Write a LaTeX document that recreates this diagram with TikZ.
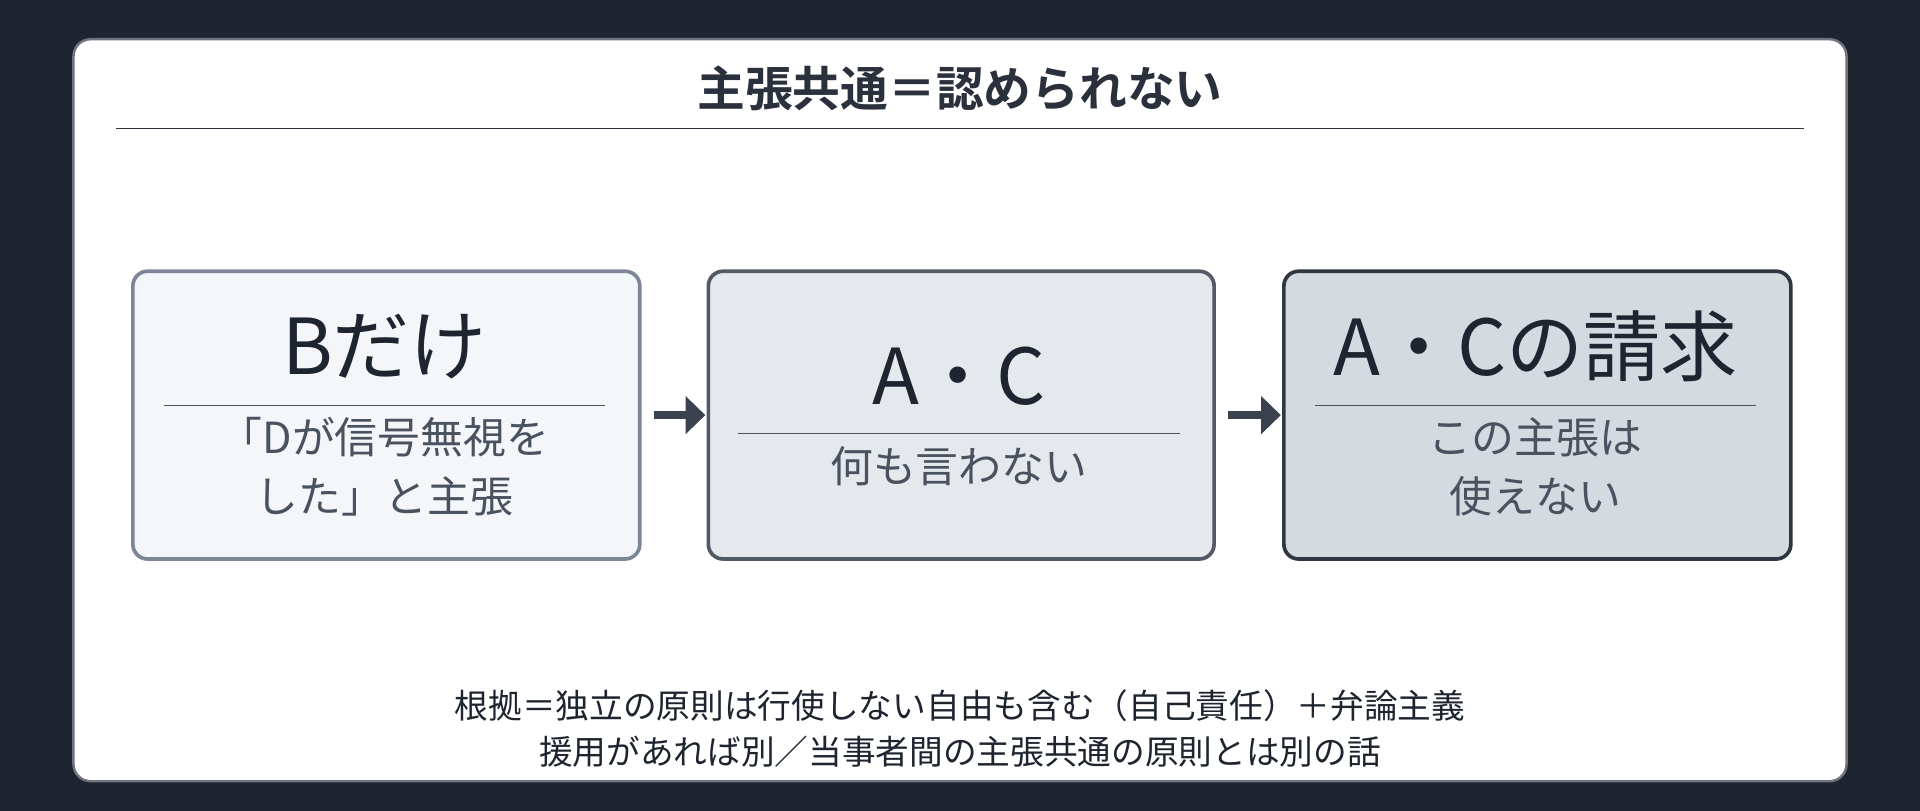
\documentclass[tikz,border=0pt]{standalone}
\usepackage{fontspec}
\setmainfont{Noto Sans CJK JP}
\newfontfamily\cjkb{Noto Sans CJK JP}[BoldFont=* Bold]
\usetikzlibrary{arrows.meta}
\definecolor{bgdark}{HTML}{1E2530}
\definecolor{txt}{HTML}{2A313C}
\definecolor{sub}{HTML}{4A5260}
\begin{document}
\begin{tikzpicture}[x=1pt,y=-1pt,
  box/.style={rounded corners=12, line width=3},
  big/.style={font=\fontsize{63}{68}\selectfont, text=bgdark, anchor=center},
  small/.style={font=\fontsize{35}{48}\selectfont, text=sub, align=center, anchor=center},
  sep/.style={draw=sub, line width=1.2},
  arr/.style={-{Triangle[length=16,width=30]}, line width=7, draw={rgb,255:red,58;green,66;blue,80}}]
\useasboundingbox (0,0) rectangle (1568,662);
\fill[bgdark] (0,0) rectangle (1568,662);
\draw[fill=white, draw=sub!80, line width=2, rounded corners=14] (60,32) rectangle (1508,638);
\node[font=\cjkb\bfseries\fontsize{39}{40}\selectfont, text=txt] (title) at (784,72) {主張共通＝認められない};
\draw[txt, line width=1.5] (95,105) -- (1473,105);
\node[box, draw={rgb,255:red,125;green,134;blue,148}, fill={rgb,255:red,244;green,246;blue,249}, minimum width=414, minimum height=235, anchor=north west] (b1) at (107,220) {};
\node[box, draw={rgb,255:red,82;green,90;blue,102}, fill={rgb,255:red,229;green,232;blue,237}, minimum width=413, minimum height=235, anchor=north west] (b2) at (577,220) {};
\node[box, draw={rgb,255:red,47;green,55;blue,66}, fill={rgb,255:red,213;green,217;blue,224}, minimum width=414, minimum height=235, anchor=north west] (b3) at (1047,220) {};
\node[big] (t1) at (314,283) {Bだけ};
\draw[sep] (134,331) -- (494,331);
\node[small] (s1) at (314,381) {「Dが信号無視を\\した」と主張};
\node[big] (t2) at (783,307) {A・C};
\draw[sep] (603,354) -- (964,354);
\node[small] (s2) at (783,381) {何も言わない};
\node[big] (t3) at (1254,283) {A・Cの請求};
\draw[sep] (1074,331) -- (1434,331);
\node[small] (s3) at (1254,381) {この主張は\\使えない};
\draw[arr] ([xshift=10]b1.east) -- ([xshift=-1]b2.west);
\draw[arr] ([xshift=10]b2.east) -- ([xshift=-1]b3.west);
\node[font=\fontsize{27.5}{37}\selectfont, text=bgdark, align=center] (foot) at (784,595) {根拠＝独立の原則は行使しない自由も含む（自己責任）＋弁論主義\\援用があれば別／当事者間の主張共通の原則とは別の話};
\end{tikzpicture}
\end{document}
